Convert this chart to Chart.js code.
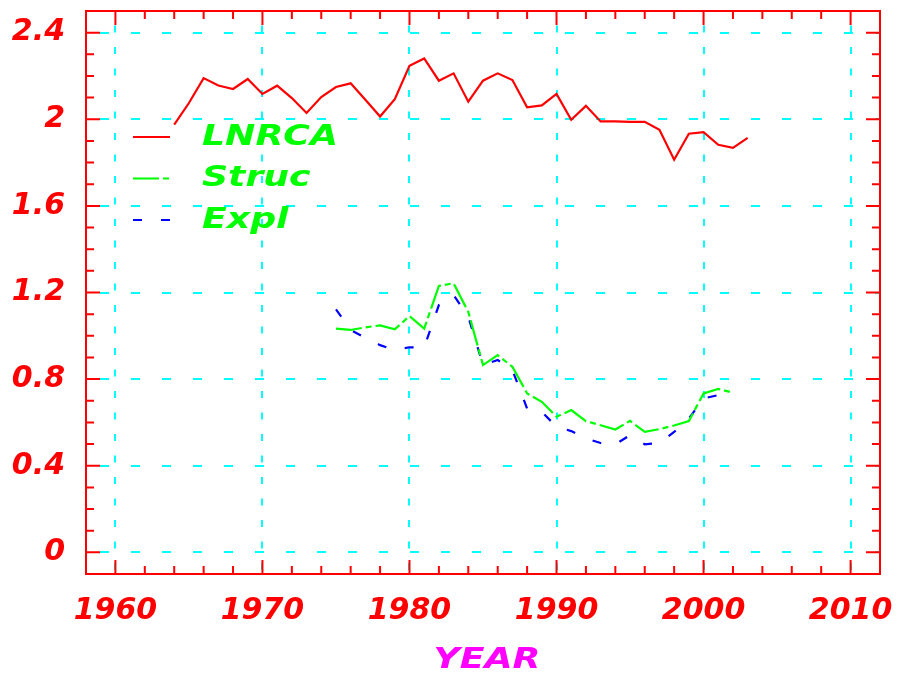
<!DOCTYPE html>
<html>
<head>
<meta charset="utf-8">
<script src="https://cdn.jsdelivr.net/npm/chart.js@4"></script>
<style>
  html, body { margin: 0; padding: 0; background: #fff; }
  #wrap { width: 904px; height: 673px; }
</style>
</head>
<body>
<div id="wrap"><canvas id="chart"></canvas></div>
<script>
// Years and series
const years = [1964, 1965, 1966, 1967, 1968, 1969, 1970, 1971, 1972, 1973,
  1974, 1975, 1976, 1977, 1978, 1979, 1980, 1981, 1982, 1983,
  1984, 1985, 1986, 1987, 1988, 1989, 1990, 1991, 1992, 1993,
  1994, 1995, 1996, 1997, 1998, 1999, 2000, 2001, 2002, 2003];

const lnrca = [1.975, 2.075, 2.19, 2.156, 2.14, 2.186, 2.117, 2.155, 2.098, 2.029,
  2.103, 2.149, 2.166, 2.09, 2.013, 2.093, 2.247, 2.281, 2.178, 2.212,
  2.081, 2.178, 2.212, 2.181, 2.055, 2.064, 2.117, 1.998, 2.062, 1.99,
  1.99, 1.988, 1.988, 1.951, 1.813, 1.933, 1.941, 1.882, 1.868, 1.914];

// Struc: 1975-2002
const struc = [1.033, 1.027, 1.039, 1.048, 1.03, 1.091, 1.033, 1.23, 1.243, 1.11,
  0.865, 0.911, 0.857, 0.734, 0.695, 0.626, 0.657, 0.606, 0.587, 0.567,
  0.607, 0.556, 0.569, 0.586, 0.606, 0.734, 0.755, 0.737];

// Expl: 1975-2001
const expl = [1.122, 1.027, 0.99, 0.957, 0.934, 0.947, 0.947, 1.142, 1.188, 1.088,
  0.865, 0.888, 0.842, 0.664, 0.649, 0.58, 0.56, 0.526, 0.505, 0.499,
  0.541, 0.499, 0.505, 0.556, 0.618, 0.711, 0.726];

const xTicks = [1960, 1970, 1980, 1990, 2000, 2010];
const yTicks = [0, 0.4, 0.8, 1.2, 1.6, 2, 2.4];
const legendLabels = ['LNRCA', 'Struc', 'Expl'];
const xTitle = 'YEAR';

function pairs(startYear, values) {
  const i0 = years.indexOf(startYear);
  return values.map((v, i) => ({ x: years[i0 + i], y: v }));
}

const labelFont = { family: 'DejaVu Sans', size: 30, weight: 'bold', style: 'italic', lineHeight: 1 };

// wide bold-italic text, the original uses a stretched face
function wideText(ctx, text, x, y, color, align) {
  ctx.save();
  ctx.fillStyle = color;
  ctx.font = 'italic bold 29px "DejaVu Sans"';
  ctx.textBaseline = 'middle';
  ctx.textAlign = align;
  ctx.translate(x, y);
  ctx.scale(1.25, 1);
  ctx.fillText(text, 0, 0);
  ctx.restore();
}

// Frame with inward ticks (major + minor), like the original plot
const framePlugin = {
  id: 'frame',
  afterDatasetsDraw(chart) {
    const { ctx, chartArea: a, scales: { x, y } } = chart;
    ctx.save();
    ctx.strokeStyle = '#ff0000';
    ctx.lineWidth = 2;
    ctx.strokeRect(a.left, a.top, a.right - a.left, a.bottom - a.top);
    ctx.beginPath();
    for (let yr = 1960; yr <= 2010; yr += 2) {
      const px = x.getPixelForValue(yr);
      const len = yr % 10 === 0 ? 14 : 8;
      ctx.moveTo(px, a.bottom); ctx.lineTo(px, a.bottom - len);
      ctx.moveTo(px, a.top); ctx.lineTo(px, a.top + len);
    }
    for (let k = 0; k <= 24; k++) {
      const py = y.getPixelForValue(k / 10);
      const len = k % 4 === 0 ? 14 : 8;
      ctx.moveTo(a.left, py); ctx.lineTo(a.left + len, py);
      ctx.moveTo(a.right, py); ctx.lineTo(a.right - len, py);
    }
    ctx.stroke();
    ctx.restore();
  }
};

// Legend drawn inside the plot: line sample + green label, plus axis title
const legendPlugin = {
  id: 'innerLegend',
  afterDraw(chart) {
    const { ctx, chartArea: a } = chart;
    chart.data.datasets.forEach((ds, i) => {
      const cy = 137 + i * 41.5;
      ctx.save();
      ctx.strokeStyle = ds.borderColor;
      ctx.lineWidth = 2;
      ctx.setLineDash(ds.borderDash || []);
      ctx.beginPath();
      ctx.moveTo(133, cy);
      ctx.lineTo(170, cy);
      ctx.stroke();
      ctx.restore();
      wideText(ctx, legendLabels[i], 202, cy, '#00ff00', 'left');
    });
    wideText(ctx, xTitle, (a.left + a.right) / 2 + 4, 660, '#ff00ff', 'center');
  }
};

new Chart(document.getElementById('chart'), {
  type: 'line',
  data: {
    datasets: [
      {
        label: 'LNRCA',
        data: pairs(1964, lnrca),
        borderColor: '#ff0000',
        borderWidth: 2.2
      },
      {
        label: 'Struc',
        data: pairs(1975, struc),
        borderColor: '#00ff00',
        borderWidth: 2.2,
        borderDash: [26, 4, 6, 4]
      },
      {
        label: 'Expl',
        data: pairs(1975, expl),
        borderColor: '#0000ff',
        borderWidth: 2.2,
        borderDash: [9, 19]
      }
    ]
  },
  options: {
    responsive: true,
    maintainAspectRatio: false,
    animation: false,
    elements: { point: { radius: 0 }, line: { tension: 0 } },
    layout: { padding: { top: 11, right: 24, left: 0, bottom: 0 } },
    plugins: { legend: { display: false }, tooltip: { enabled: false } },
    scales: {
      x: {
        type: 'linear',
        min: 1958,
        max: 2012,
        afterBuildTicks: s => { s.ticks = xTicks.map(v => ({ value: v })); },
        afterFit: s => { s.height = 99; s.paddingLeft = 0; s.paddingRight = 0; },
        border: { display: false, dash: [7, 14.5], dashOffset: 7 },
        grid: {
          color: '#00ffff',
          lineWidth: 2,
          drawTicks: false
        },
        ticks: {
          color: '#ff0000',
          font: labelFont,
          padding: 22,
          maxRotation: 0,
          callback: v => String(v)
        }
      },
      y: {
        type: 'linear',
        min: -0.1,
        max: 2.5,
        afterBuildTicks: s => { s.ticks = yTicks.map(v => ({ value: v })); },
        afterFit: s => { s.width = 86; s.paddingTop = 0; s.paddingBottom = 0; },
        border: { display: false, dash: [9, 22], dashOffset: 17 },
        grid: {
          color: '#00ffff',
          lineWidth: 2,
          drawTicks: false
        },
        ticks: {
          color: '#ff0000',
          font: labelFont,
          padding: 21,
          callback: v => String(Math.round(v * 10) / 10)
        }
      }
    }
  },
  plugins: [framePlugin, legendPlugin]
});
</script>
</body>
</html>
